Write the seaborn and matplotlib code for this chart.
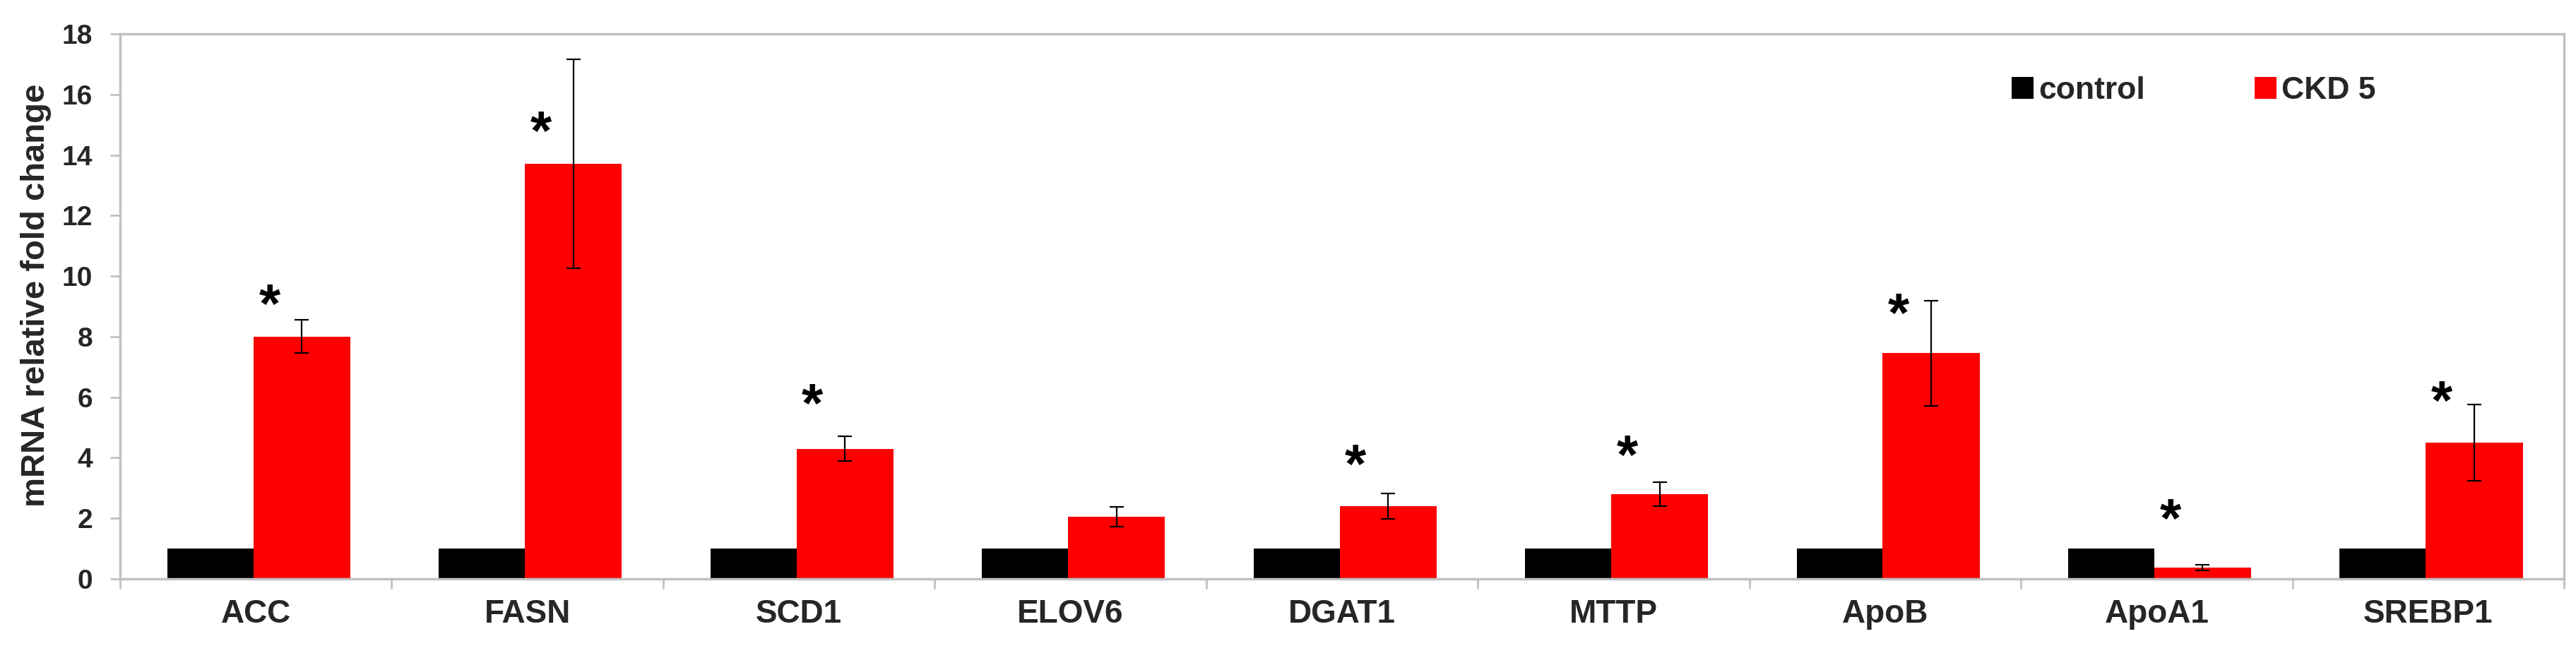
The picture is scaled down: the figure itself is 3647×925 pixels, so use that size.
import numpy as np
import pandas as pd
import matplotlib
matplotlib.use('Agg')
import matplotlib.pyplot as plt
import seaborn as sns

genes = ['ACC', 'FASN', 'SCD1', 'ELOV6', 'DGAT1', 'MTTP', 'ApoB', 'ApoA1', 'SREBP1']
control = [1, 1, 1, 1, 1, 1, 1, 1, 1]
ckd5 = [8.0, 13.7, 4.3, 2.05, 2.4, 2.8, 7.45, 0.37, 4.5]
ckd5_err = [0.55, 3.45, 0.4, 0.33, 0.42, 0.4, 1.74, 0.1, 1.25]
# height of the significance asterisks (None = no asterisk)
star_y = [9.3, 15.0, 6.0, None, 4.0, 4.3, 9.0, 2.2, 6.1]

sns.set_style('white')
plt.rcParams['font.family'] = ['Liberation Sans', 'DejaVu Sans']
plt.rcParams['font.weight'] = 'bold'

df = pd.DataFrame({
    'gene': genes * 2,
    'group': ['control'] * len(genes) + ['CKD 5'] * len(genes),
    'value': control + ckd5,
})

fig = plt.figure(figsize=(36.48, 9.25), dpi=100)
ax = fig.add_axes([170 / 3648, 1 - 820 / 925, 3460 / 3648, 772 / 925])

sns.barplot(data=df, x='gene', y='value', hue='group',
            palette={'control': '#000000', 'CKD 5': '#ff0000'},
            width=0.68, errorbar=None, saturation=1, linewidth=0, ax=ax)

# control bars a bit narrower than the CKD 5 bars, as in the original
for i, p in enumerate(ax.containers[0]):
    p.set_x(i - 0.326)
    p.set_width(0.317)
for i, p in enumerate(ax.containers[1]):
    p.set_x(i - 0.009)
    p.set_width(0.357)

red_x = [p.get_x() + p.get_width() / 2 for p in ax.containers[1]]
ax.errorbar(red_x, ckd5, yerr=ckd5_err, fmt='none', ecolor='black',
            elinewidth=1.6, capsize=7, capthick=1.6, zorder=5)

# the '*' glyph sits above the middle of its text box, so pull it down a bit
for i, y in enumerate(star_y):
    if y is not None:
        ax.text(i + 0.05, y - 0.35, '*', ha='center', va='center',
                fontsize=56, fontweight='bold', color='black')

ax.set_xlim(-0.5, 8.5)
ax.set_ylim(0, 18)
ax.set_yticks(range(0, 19, 2))
ax.set_xticks(range(len(genes)))
ax.set_xticklabels(genes)
ax.set_xticks(np.arange(-0.5, 9, 1), minor=True)
ax.set_xlabel('')
ax.set_ylabel('mRNA relative fold change', fontsize=34, fontweight='bold')
ax.yaxis.set_label_coords(-0.028, 0.52)

grey = '#c0c0c0'
for s in ax.spines.values():
    s.set_visible(True)
    s.set_color(grey)
    s.set_linewidth(2.5)

ax.tick_params(axis='y', left=True, length=10, width=2, color=grey,
               labelsize=28, pad=18)
ax.tick_params(axis='x', which='major', bottom=True, length=0,
               labelsize=33, pad=20)
ax.tick_params(axis='x', which='minor', bottom=True, length=10, width=2,
               color=grey)

handles, labels = ax.get_legend_handles_labels()
ax.legend(handles, labels, ncol=2, frameon=False, loc='center left',
          bbox_to_anchor=(0.774, 0.896), fontsize=32, handlelength=0.7,
          handleheight=0.7, handletextpad=0.15, columnspacing=3.5,
          borderpad=0, borderaxespad=0)

fig.savefig('out.png', dpi=100)
